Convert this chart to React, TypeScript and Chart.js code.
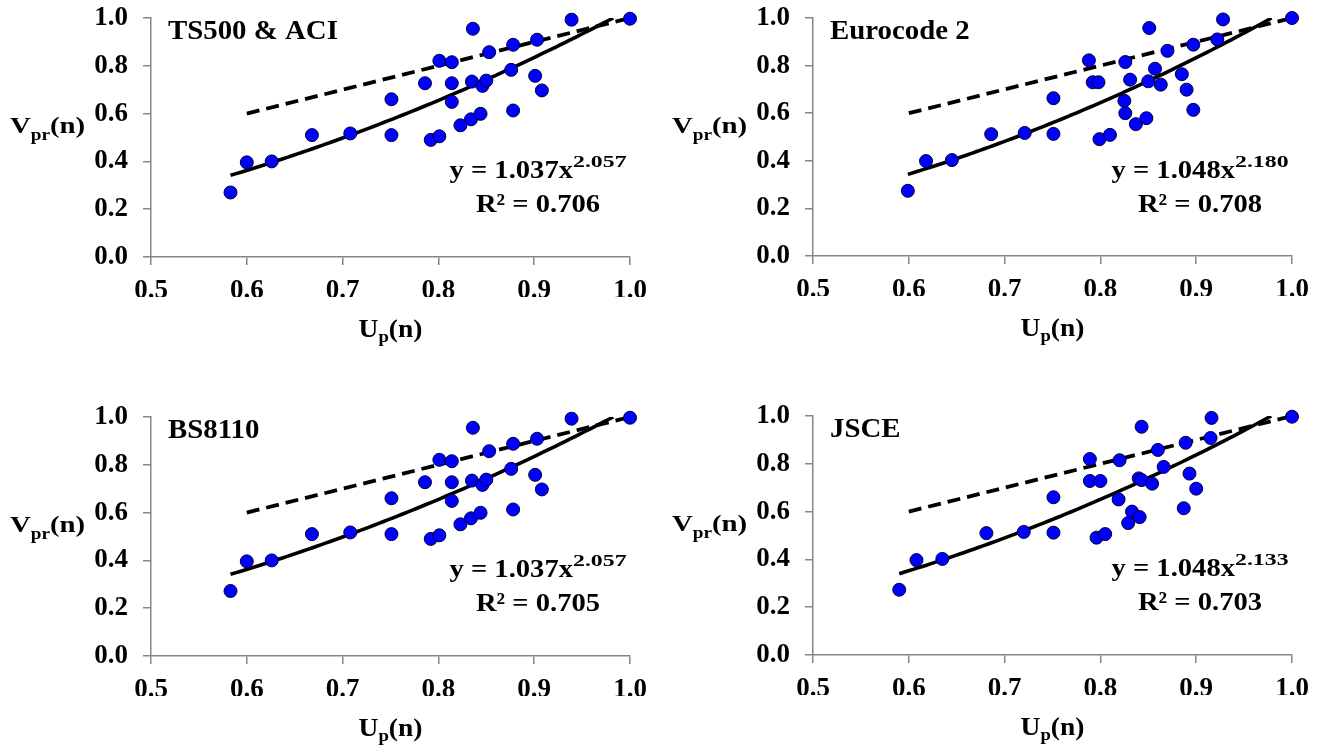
import React, { useEffect, useRef } from "react";
import { Chart, registerables } from "chart.js";

Chart.register(...registerables);

// ---------- data ----------
const titles = ["TS500 & ACI", "Eurocode 2", "BS8110", "JSCE"];
const eqA = ["1.037", "1.048", "1.037", "1.048"];
const eqB = ["2.057", "2.180", "2.057", "2.133"];
const r2Values = ["0.706", "0.708", "0.705", "0.703"];

const xTicks = [0.5, 0.6, 0.7, 0.8, 0.9, 1.0];
const yTicks = [0.0, 0.2, 0.4, 0.6, 0.8, 1.0];

const refLineX = [0.6, 1.0];
const refLineY = [0.6, 1.0];

const tsX = [0.583, 0.600, 0.626, 0.668, 0.708, 0.751, 0.751, 0.786, 0.792, 0.801, 0.801, 0.814, 0.814, 0.814, 0.823, 0.834, 0.836, 0.835, 0.844, 0.846, 0.850, 0.853, 0.876, 0.878, 0.878, 0.901, 0.903, 0.908, 0.939, 1.000];
const tsY = [0.270, 0.396, 0.400, 0.510, 0.517, 0.660, 0.510, 0.727, 0.490, 0.505, 0.821, 0.815, 0.727, 0.649, 0.551, 0.576, 0.955, 0.734, 0.599, 0.716, 0.738, 0.857, 0.783, 0.613, 0.888, 0.758, 0.909, 0.697, 0.993, 0.997];

const ecX = [0.599, 0.618, 0.645, 0.686, 0.721, 0.751, 0.751, 0.788, 0.792, 0.798, 0.799, 0.810, 0.826, 0.825, 0.826, 0.831, 0.837, 0.848, 0.851, 0.850, 0.857, 0.863, 0.870, 0.885, 0.890, 0.897, 0.897, 0.922, 0.928, 1.000];
const ecY = [0.274, 0.399, 0.403, 0.512, 0.517, 0.663, 0.513, 0.822, 0.730, 0.730, 0.491, 0.509, 0.815, 0.652, 0.600, 0.741, 0.554, 0.579, 0.958, 0.734, 0.787, 0.720, 0.862, 0.764, 0.699, 0.614, 0.888, 0.910, 0.994, 1.000];

const bsX = [0.583, 0.600, 0.626, 0.668, 0.708, 0.751, 0.751, 0.786, 0.792, 0.801, 0.801, 0.814, 0.814, 0.814, 0.823, 0.834, 0.836, 0.835, 0.844, 0.846, 0.850, 0.853, 0.876, 0.878, 0.878, 0.901, 0.903, 0.908, 0.939, 1.000];
const bsY = [0.272, 0.396, 0.400, 0.510, 0.517, 0.660, 0.510, 0.727, 0.490, 0.505, 0.821, 0.815, 0.727, 0.649, 0.551, 0.576, 0.955, 0.734, 0.599, 0.716, 0.738, 0.857, 0.783, 0.613, 0.888, 0.758, 0.909, 0.697, 0.993, 0.997];

const jsX = [0.590, 0.608, 0.635, 0.681, 0.720, 0.751, 0.751, 0.789, 0.789, 0.800, 0.796, 0.805, 0.820, 0.819, 0.833, 0.829, 0.841, 0.843, 0.840, 0.843, 0.854, 0.860, 0.866, 0.889, 0.887, 0.893, 0.900, 0.915, 0.916, 1.000];
const jsY = [0.273, 0.397, 0.402, 0.510, 0.515, 0.660, 0.512, 0.820, 0.728, 0.728, 0.491, 0.506, 0.815, 0.651, 0.600, 0.552, 0.577, 0.955, 0.739, 0.732, 0.717, 0.858, 0.787, 0.888, 0.614, 0.759, 0.696, 0.908, 0.992, 0.997];

const panelXs = [tsX, ecX, bsX, jsX];
const panelYs = [tsY, ecY, bsY, jsY];

// ---------- layout ----------
const CW = 666;
const CH = 373;
const canvasPos = [
  { left: 0, top: 0 },
  { left: 666, top: 0 },
  { left: 0, top: 374 },
  { left: 666, top: 374 },
];
const plots = [
  { l: 151, t: 18, r: 630, b: 257 },
  { l: 147, t: 18, r: 626, b: 256 },
  { l: 151, t: 43, r: 630, b: 282 },
  { l: 147, t: 42, r: 626, b: 281 },
];

const FONT = '"Liberation Serif", "Times New Roman", serif';
const AXIS_GRAY = "#868686";
const Y_AXIS_W = 100;
const X_AXIS_H = 40;

type Seg = { text: string; size: number; dy?: number; sx?: number };

function drawRich(ctx: CanvasRenderingContext2D, segs: Seg[], x: number, y: number, align: "left" | "center") {
  ctx.save();
  ctx.fillStyle = "#000";
  ctx.textBaseline = "alphabetic";
  ctx.textAlign = "left";
  const widths = segs.map((s) => {
    ctx.font = `bold ${s.size}px ${FONT}`;
    return ctx.measureText(s.text).width * (s.sx ?? 1);
  });
  const total = widths.reduce((a, b) => a + b, 0);
  let cx = align === "center" ? x - total / 2 : x;
  segs.forEach((s, i) => {
    ctx.font = `bold ${s.size}px ${FONT}`;
    ctx.save();
    ctx.translate(cx, y + (s.dy ?? 0));
    ctx.scale(s.sx ?? 1, 1);
    ctx.fillText(s.text, 0, 0);
    ctx.restore();
    cx += widths[i];
  });
  ctx.restore();
}

function makeTextPlugin(idx: number) {
  return {
    id: "panelText" + idx,
    afterDraw(chart: any) {
      const ctx = chart.ctx as CanvasRenderingContext2D;
      const { left, top, right, bottom } = chart.chartArea;
      // title
      drawRich(ctx, [{ text: titles[idx], size: 28, sx: 1.03 }], left + 17, top + 21, "left");
      // equation
      const cxEq = left + 387;
      drawRich(
        ctx,
        [
          { text: `y = ${eqA[idx]}x`, size: 26, sx: 1.1 },
          { text: eqB[idx], size: 17, dy: -11, sx: 1.4 },
        ],
        cxEq,
        top + 160,
        "center"
      );
      drawRich(ctx, [{ text: `R² = ${r2Values[idx]}`, size: 26, sx: 1.1 }], cxEq, top + 194, "center");
      // x axis title
      drawRich(
        ctx,
        [
          { text: "U", size: 25, sx: 1.1 },
          { text: "p", size: 17, dy: 5, sx: 1.1 },
          { text: "(n)", size: 25, sx: 1.1 },
        ],
        (left + right) / 2,
        bottom + 80,
        "center"
      );
      // y axis title
      drawRich(
        ctx,
        [
          { text: "V", size: 24, sx: 1.2 },
          { text: "pr", size: 16, dy: 7, sx: 1.2 },
          { text: "(n)", size: 24, sx: 1.2 },
        ],
        left - 141,
        top + 115,
        "left"
      );
    },
  };
}

function zeroPad(s: any) {
  s.paddingTop = 0;
  s.paddingBottom = 0;
  s.paddingLeft = 0;
  s.paddingRight = 0;
}

function Panel({ idx }: { idx: number }) {
  const ref = useRef<HTMLCanvasElement | null>(null);
  useEffect(() => {
    const canvas = ref.current;
    if (!canvas) return;
    const p = plots[idx];
    const xs = panelXs[idx];
    const ys = panelYs[idx];
    const a = parseFloat(eqA[idx]);
    const b = parseFloat(eqB[idx]);
    const xMin = Math.min(...xs);
    const xEnd = Math.min(Math.max(...xs), Math.pow(1 / a, 1 / b));
    const curve: { x: number; y: number }[] = [];
    const n = 80;
    for (let i = 0; i <= n; i++) {
      const x = xMin + ((xEnd - xMin) * i) / n;
      curve.push({ x, y: a * Math.pow(x, b) });
    }
    const tickFont = { family: FONT, size: 27, weight: "bold" as const };
    const chart = new Chart(canvas, {
      type: "scatter",
      data: {
        datasets: [
          {
            type: "line",
            data: refLineX.map((x, i) => ({ x, y: refLineY[i] })),
            borderColor: "#000",
            borderWidth: 3.8,
            borderDash: [13, 7],
            pointRadius: 0,
            fill: false,
            order: 3,
          } as any,
          {
            type: "line",
            data: curve,
            borderColor: "#000",
            borderWidth: 3.6,
            pointRadius: 0,
            tension: 0,
            fill: false,
            order: 2,
          } as any,
          {
            type: "scatter",
            data: xs.map((x, i) => ({ x, y: ys[i] })),
            backgroundColor: "#0000ff",
            borderColor: "#000033",
            borderWidth: 1,
            pointRadius: 6.5,
            clip: false,
            order: 1,
          } as any,
        ],
      },
      options: {
        responsive: false,
        animation: false,
        devicePixelRatio: 1,
        layout: {
          padding: {
            left: p.l - Y_AXIS_W,
            top: p.t,
            right: CW - p.r,
            bottom: CH - p.b - X_AXIS_H,
          },
        },
        plugins: { legend: { display: false }, tooltip: { enabled: false }, title: { display: false } },
        scales: {
          x: {
            type: "linear",
            min: xTicks[0],
            max: xTicks[xTicks.length - 1],
            afterBuildTicks: (s: any) => {
              s.ticks = xTicks.map((v) => ({ value: v }));
            },
            afterFit: (s: any) => {
              s.height = X_AXIS_H;
              zeroPad(s);
            },
            ticks: {
              font: tickFont,
              color: "#000",
              padding: 10,
              maxRotation: 0,
              autoSkip: false,
              callback: (v: any) => Number(v).toFixed(1),
            },
            grid: { display: true, drawOnChartArea: false, drawTicks: true, tickLength: 8, color: AXIS_GRAY, lineWidth: 1.5 },
            border: { display: true, color: AXIS_GRAY, width: 1.5 },
          },
          y: {
            type: "linear",
            min: yTicks[0],
            max: yTicks[yTicks.length - 1],
            afterBuildTicks: (s: any) => {
              s.ticks = yTicks.map((v) => ({ value: v }));
            },
            afterFit: (s: any) => {
              s.width = Y_AXIS_W;
              zeroPad(s);
            },
            ticks: {
              font: tickFont,
              color: "#000",
              padding: 15,
              autoSkip: false,
              callback: (v: any) => Number(v).toFixed(1),
            },
            grid: { display: true, drawOnChartArea: false, drawTicks: true, tickLength: 8, color: AXIS_GRAY, lineWidth: 1.5 },
            border: { display: true, color: AXIS_GRAY, width: 1.5 },
          },
        },
      },
      plugins: [makeTextPlugin(idx)],
    } as any);
    return () => chart.destroy();
  }, [idx]);
  const pos = canvasPos[idx];
  return (
    <canvas
      ref={ref}
      width={CW}
      height={CH}
      style={{ position: "absolute", left: pos.left, top: pos.top, width: CW, height: CH }}
    />
  );
}

export default function App() {
  return (
    <div style={{ position: "fixed", left: 0, top: 0, width: 1332, height: 747, background: "#fff", overflow: "hidden" }}>
      {[0, 1, 2, 3].map((i) => (
        <Panel key={i} idx={i} />
      ))}
    </div>
  );
}
